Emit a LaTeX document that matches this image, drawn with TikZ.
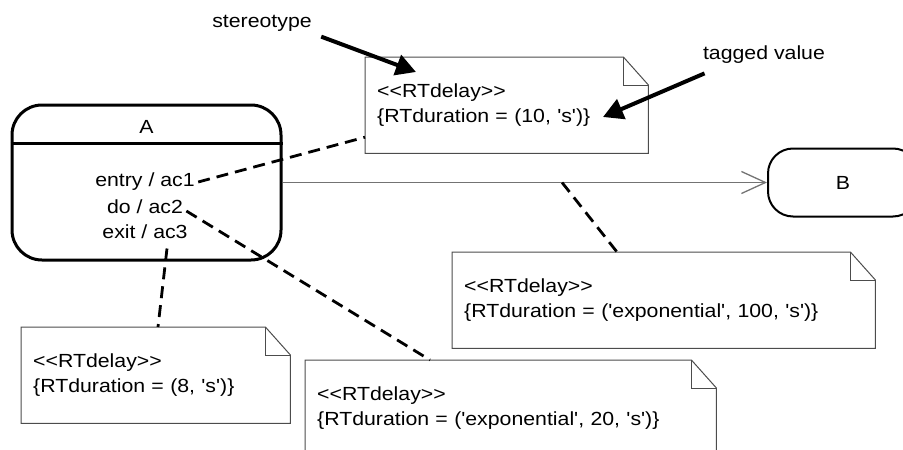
\documentclass[tikz,border=0pt]{standalone}
\usepackage{fontspec}
\newfontfamily\umlfont{Liberation Sans}[FakeStretch=1.12]
\usepackage{tikz}
\usetikzlibrary{
	arrows.meta,
	calc,
	positioning,
}
\tikzset{state node/.style={
	draw,
	rectangle,
	rounded corners=30pt,
	line width=3pt,
	inner sep=0mm,
},
small state/.style={
	draw,
	rectangle,
	rounded corners=25pt,
	line width=2pt,
	inner sep=0mm,
},
note node/.style={
	anchor=north west,
	inner xsep=12pt,
	inner ysep=0pt,
	minimum height=96pt,
	align=left,
},
note line/.style={
	draw=black!70,
	line width=1pt,
},
anchor line/.style={
	line width=2.8pt,
	dash pattern=on 12pt off 7pt,
},
pointer/.style={
	line width=4pt,
	-{Triangle[length=20pt,width=21pt]},
},
transition/.style={
	draw=black!55,
	line width=1.3pt,
	-{Straight Barb[length=24pt,width=22pt,line width=1.3pt]},
},
}

\begin{document}
\begin{tikzpicture}[x=1pt,y=-1pt,every node/.style={font=\umlfont\fontsize{19}{25}\selectfont}]
\clip (0,0) rectangle (903,450);

\node[state node, minimum width=269pt, minimum height=155pt] (A) at (146.5,182.5) {};
\node (Aname) at (146.5,127) {A};
\draw[line width=3pt] ([yshift=-40pt]A.north west) -- ([yshift=-40pt]A.north east);
\node (entry) at (145,182) {entry / ac1};
\node (do) at (145,207) {do / ac2};
\node (exit) at (145,232) {exit / ac3};

\node[small state, minimum width=150pt, minimum height=68pt] (B) at (843,182.5) {B};

\draw[transition] (A) -- coordinate[pos=0.577] (t) (B);

\foreach \n/\x/\y/\w/\v in {
	n1/365/57/259/{(10, 's')},
	n2/452/252/399/{('exponential', 100, 's')},
	n3/305/360/387/{('exponential', 20, 's')},
	n4/21/327/245/{(8, 's')}%
}{
	\node[note node, text width=\w pt] (\n) at (\x,\y) {<<RTdelay>>\\\{RTduration = \v\}};
	\draw[note line] (\n.north west) -- ([xshift=-25pt]\n.north east) -- ([yshift=-28pt]\n.north east) -- (\n.south east) -- (\n.south west) -- cycle;
	\draw[note line] ([xshift=-25pt]\n.north east) |- ([yshift=-28pt]\n.north east);
}

\draw[anchor line] (entry.east) -- ([yshift=-32pt]n1.west);
\draw[anchor line] ([yshift=-4pt]do.east) -- ([xshift=125pt]n3.north west);
\draw[anchor line] ([xshift=22pt,yshift=-6pt]exit.south) -- ([xshift=137pt]n4.north west);
\draw[anchor line] (t) -- ([xshift=165pt]n2.north west);

\node (stereo) at (262,23) {stereotype};
\node (tagged) at (764,55) {tagged value};
\coordinate (stereo tip) at (416,72);
\coordinate (tagged tip) at (603,117);
\draw[pointer] ([xshift=6pt,yshift=-2pt]stereo.south east) -- (stereo tip);
\draw[pointer] ([xshift=5pt,yshift=-6pt]tagged.south west) -- (tagged tip);

\end{tikzpicture}
\end{document}
